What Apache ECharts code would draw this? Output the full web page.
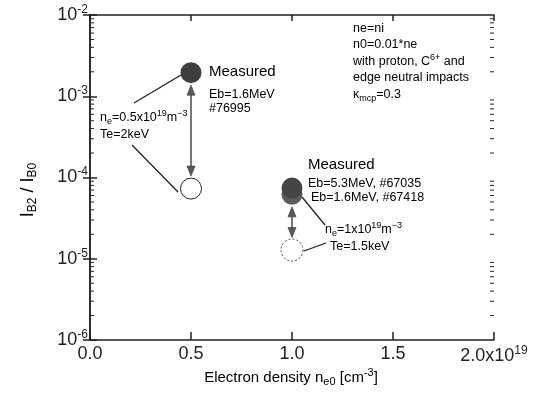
<!DOCTYPE html>
<html><head><meta charset="utf-8">
<script src="https://cdn.jsdelivr.net/npm/echarts@6/dist/echarts.min.js"></script>
<style>html,body{margin:0;padding:0;background:#fff}#c{width:536px;height:410px}</style>
</head><body><div id="c"></div>
<script>
// ---- data ----
const xTicks = [0, 0.5, 1.0, 1.5, 2.0];
const xTickLabels = ['0.0', '0.5', '1.0', '1.5', '2.0x10'];
const yDecades = [-6, -5, -4, -3, -2];
const measuredX = [0.5, 1.0, 1.0];
const measuredY = [1.95e-3, 6.2e-5, 7.4e-5];
const measuredShade = ['#3e3e3e', '#5c5c5c', '#454545'];
const modelX = [0.5];
const modelY = [7.3e-5];
const modelDashedX = [1.0];
const modelDashedY = [1.28e-5];
const arrowX = [0.5, 1.0];
const arrowFromY = [1.95e-3, 6.2e-5];
const arrowToY = [7.3e-5, 1.28e-5];

const FONT = '"Liberation Sans", Arial, sans-serif';
const minorVals = [];
for (let e = -6; e < -2; e++) for (let m = 2; m <= 9; m++) minorVals.push([0, m * Math.pow(10, e)]);

const chart = echarts.init(document.getElementById('c'));
const axisLine = { show: true, lineStyle: { color: '#222', width: 1.5 } };
const supRich = {
  b: { fontSize: 18, fontFamily: FONT, color: '#222' },
  s: { fontSize: 12, fontFamily: FONT, color: '#222', padding: [0, 0, 11, 0] }
};

chart.setOption({
  animation: false,
  backgroundColor: '#fff',
  grid: { left: 90, right: 42, top: 15, bottom: 70 },
  xAxis: [{
    type: 'value', min: 0, max: 2, interval: 0.5,
    axisLine: axisLine,
    axisTick: { inside: true, length: 8, lineStyle: { color: '#222', width: 1.5 } },
    splitLine: { show: false },
    axisLabel: {
      margin: 5, color: '#222',
      formatter: function (v) {
        const i = xTicks.indexOf(v);
        const t = i >= 0 ? xTickLabels[i] : '';
        return i === xTicks.length - 1 ? '{b|' + t + '}{s|19}' : '{b|' + t + '}';
      },
      rich: supRich
    }
  }, {
    type: 'value', min: 0, max: 2, interval: 0.5, position: 'top',
    axisLine: axisLine,
    axisTick: { inside: true, length: 6, lineStyle: { color: '#222', width: 1.5 } },
    axisLabel: { show: false }, splitLine: { show: false }
  }],
  yAxis: [{
    type: 'log', logBase: 10, min: 1e-6, max: 1e-2,
    axisLine: axisLine,
    axisTick: { inside: true, length: 7, lineStyle: { color: '#222', width: 1.5 } },
    splitLine: { show: false },
    axisLabel: {
      margin: 2, color: '#222',
      formatter: function (v) {
        const e = Math.round(Math.log10(v));
        return yDecades.indexOf(e) >= 0 ? '{b|10}{s|' + e + '}' : '';
      },
      rich: supRich
    }
  }, {
    type: 'log', logBase: 10, min: 1e-6, max: 1e-2, position: 'right',
    axisLine: axisLine,
    axisTick: { inside: true, length: 7, lineStyle: { color: '#222', width: 1.5 } },
    axisLabel: { show: false }, splitLine: { show: false }
  }],
  series: [
    {
      type: 'custom', name: 'minor', data: minorVals, clip: false, silent: true, z: 5,
      renderItem: function (params, api) {
        const v = api.value(1);
        const l = api.coord([0, v]);
        const r = api.coord([2, v]);
        return { type: 'group', children: [
          { type: 'line', shape: { x1: l[0], y1: l[1], x2: l[0] + 4, y2: l[1] }, style: { stroke: '#222', lineWidth: 1 } },
          { type: 'line', shape: { x1: r[0], y1: r[1], x2: r[0] - 4, y2: r[1] }, style: { stroke: '#222', lineWidth: 1 } }
        ] };
      }
    },
    {
      type: 'custom', name: 'arrows', clip: false, silent: true, z: 3,
      data: arrowX.map((x, i) => [x, arrowFromY[i], arrowToY[i]]),
      renderItem: function (params, api) {
        const p1 = api.coord([api.value(0), api.value(1)]);
        const p2 = api.coord([api.value(0), api.value(2)]);
        const r = 11.5;
        const x = p1[0];
        const y1 = p1[1] + r + 1, y2 = p2[1] - r - 1;
        const hl = 10, hw = 4;
        const st = { fill: '#5a5a5a', stroke: '#333', lineWidth: 0.6 };
        return { type: 'group', children: [
          { type: 'line', shape: { x1: x, y1: y1 + hl - 2, x2: x, y2: y2 - hl + 2 }, style: { stroke: '#555', lineWidth: 1.6 } },
          { type: 'polygon', shape: { points: [[x, y1], [x - hw, y1 + hl], [x + hw, y1 + hl]] }, style: st },
          { type: 'polygon', shape: { points: [[x, y2], [x - hw, y2 - hl], [x + hw, y2 - hl]] }, style: st }
        ] };
      }
    },
    {
      type: 'scatter', name: 'measured', z: 4,
      data: measuredX.map((x, i) => ({ value: [x, measuredY[i]], itemStyle: { color: measuredShade[i] } })),
      symbol: 'circle', symbolSize: 21,
      itemStyle: { borderWidth: 0, opacity: 1 }
    },
    {
      type: 'scatter', name: 'model', z: 4,
      data: modelX.map((x, i) => [x, modelY[i]]),
      symbol: 'circle', symbolSize: 21,
      itemStyle: { color: '#fff', borderColor: '#222', borderWidth: 1, opacity: 1 }
    },
    {
      type: 'scatter', name: 'modelDashed', z: 4,
      data: modelDashedX.map((x, i) => [x, modelDashedY[i]]),
      symbol: 'circle', symbolSize: 22,
      itemStyle: { color: '#fff', borderColor: '#444', borderWidth: 1, borderType: [2, 2], opacity: 1 }
    }
  ],
  graphic: (function () {
    const txtRich = {
      a: { fontSize: 13, fontFamily: FONT, color: '#222' },
      sup: { fontSize: 9, fontFamily: FONT, color: '#222', padding: [0, 0, 9, 0] },
      sub: { fontSize: 9, fontFamily: FONT, color: '#222', padding: [7, 0, 0, 0] }
    };
    function T(x, y, text, size) {
      const rich = JSON.parse(JSON.stringify(txtRich));
      if (size) rich.a.fontSize = size;
      return { type: 'text', x: x, y: y, z: 10, style: { text: text, rich: rich, verticalAlign: 'middle', align: 'left' } };
    }
    function L(x1, y1, x2, y2) {
      return { type: 'line', z: 10, shape: { x1: x1, y1: y1, x2: x2, y2: y2 }, style: { stroke: '#222', lineWidth: 1.3 } };
    }
    return [
      T(353, 29, '{a|ne=ni}', 12.5),
      T(353, 45, '{a|n0=0.01*ne}', 12.5),
      T(353, 62, '{a|with proton, C}{sup|6+}{a| and}', 12.5),
      T(353, 78, '{a|edge neutral impacts}', 12.5),
      T(353, 95, '{a|κ}{sub|mcp}{a|=0.3}', 12.5),
      T(209, 72, '{a|Measured}', 15),
      T(209, 95, '{a|Eb=1.6MeV}', 12.5),
      T(209, 109, '{a|#76995}', 12.5),
      T(100, 118, '{a|n}{sub|e}{a|=0.5x10}{sup|19}{a|m}{sup|−3}', 12.5),
      T(100, 135, '{a|Te=2keV}', 12.5),
      L(134, 103, 181, 75),
      L(132, 145, 178, 192),
      T(308, 165, '{a|Measured}', 15),
      T(308, 184, '{a|Eb=5.3MeV, #67035}', 12.5),
      T(311, 198, '{a|Eb=1.6MeV, #67418}', 12.5),
      T(325, 230, '{a|n}{sub|e}{a|=1x10}{sup|19}{a|m}{sup|−3}', 12.5),
      T(330, 247, '{a|Te=1.5keV}', 12.5),
      L(302, 197, 325, 225),
      L(304, 251, 326, 243),
      { type: 'text', x: 291, y: 378, z: 10, style: {
          text: '{a|Electron density n}{sub|e0}{a| [cm}{sup|-3}{a|]}', align: 'center', verticalAlign: 'middle',
          rich: { a: { fontSize: 15, fontFamily: FONT, color: '#222' },
                  sub: { fontSize: 11, fontFamily: FONT, color: '#222', padding: [7, 0, 0, 0] },
                  sup: { fontSize: 11, fontFamily: FONT, color: '#222', padding: [0, 0, 10, 0] } } } },
      { type: 'text', x: 28, y: 190, rotation: Math.PI / 2, z: 10, style: {
          text: '{a|I}{sub|B2}{a| / I}{sub|B0}', align: 'center', verticalAlign: 'middle',
          rich: { a: { fontSize: 18, fontFamily: FONT, color: '#222' },
                  sub: { fontSize: 12, fontFamily: FONT, color: '#222', padding: [9, 0, 0, 0] } } } }
    ];
  })()
});
</script></body></html>
